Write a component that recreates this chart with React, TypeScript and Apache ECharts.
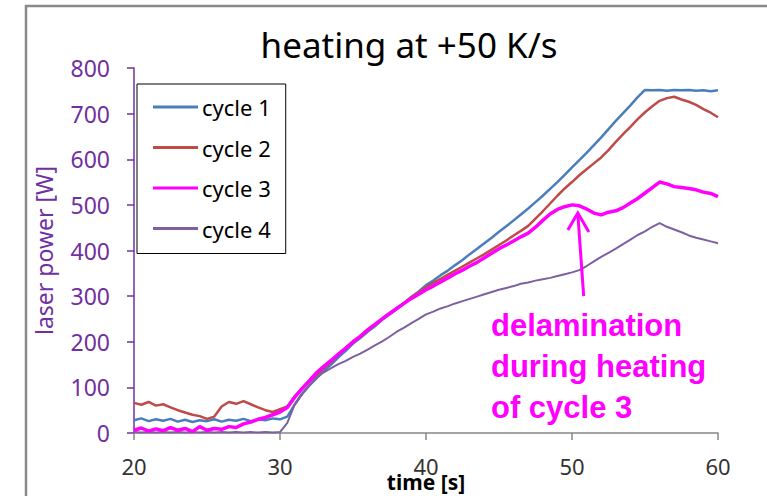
import React, { useEffect, useRef } from "react";
import * as echarts from "echarts";

const times = [20,20.5,21,21.5,22,22.5,23,23.5,24,24.5,25,25.5,26,26.5,27,27.5,28,28.5,29,29.5,30,30.5,31,31.5,32,32.5,33,33.5,34,34.5,35,35.5,36,36.5,37,37.5,38,38.5,39,39.5,40,40.5,41,41.5,42,42.5,43,43.5,44,44.5,45,45.5,46,46.5,47,47.5,48,48.5,49,49.5,50,50.5,51,51.5,52,52.5,53,53.5,54,54.5,55,55.5,56,56.5,57,57.5,58,58.5,59,59.5,60];

const cycle1 = [28,32,26,30,27,31,25,29,24,28, 26,30,25,29,27,31,26,30,28,32, 30,36,62,86,104,120,136,150,166,180, 196,208,222,234,248,260,272,285,298,310, 324,334,346,356,368,379,392,404,416,428, 441,453,466,479,492,506,520,535,550,566, 582,598,614,631,648,666,684,701,718,736, 752,751,752,750,752,751,752,750,751,749, 751];
const cycle2 = [66,62,68,60,63,56,50,45,40,37, 31,36,58,68,64,70,63,56,50,46, 52,58,80,96,112,127,142,156,172,185, 198,211,224,237,250,261,274,285,298,308, 320,329,338,347,356,365,374,383,392,402, 412,422,433,443,454,470,486,503,520,536, 550,565,578,591,604,620,638,655,671,688, 703,716,728,734,737,731,726,719,710,702, 692];
const cycle3 = [6,11,4,9,5,12,6,10,3,14, 6,10,8,14,12,20,24,30,34,40, 46,56,78,97,114,132,146,159,173,186, 200,212,226,238,250,262,273,284,295,304, 314,322,331,340,349,357,366,374,384,394, 404,412,421,430,438,451,466,480,490,496, 500,498,491,482,478,484,487,494,504,514, 526,538,550,546,540,538,536,533,528,525, 518];
const cycle4 = [2,1,2,1,2,1,2,1,2,1, 2,1,2,1,2,1,2,1,2,1, 2,22,62,84,104,121,133,142,151,158, 167,174,183,192,201,211,222,231,241,250, 260,266,273,278,284,289,294,299,304,309, 314,318,322,327,330,334,337,340,344,348, 352,357,366,376,386,395,404,414,424,434, 442,452,460,452,446,440,433,428,424,420, 416];

const seriesNames = ["cycle 1", "cycle 2", "cycle 3", "cycle 4"];
const seriesColors = ["#4A7EBB", "#BE4B48", "#FF00FF", "#7D60A0"];
const seriesWidths = [2.5, 2.5, 3.5, 2];
const seriesValues = [cycle1, cycle2, cycle3, cycle4];
const seriesZ = [2, 3, 5, 4];

const xTicks = { min: 20, max: 60, interval: 10 };
const yTicks = { min: 0, max: 800, interval: 100 };

const titleText = "heating at +50 K/s";
const xName = "time [s]";
const yName = "laser power [W]";
const noteText = "delamination\nduring heating\nof cycle 3";
const arrowTip = [50.4, 482];
const arrowTail = [50.8, 300];

const FONT = "'Noto Sans', 'Liberation Sans', sans-serif";

export default function App() {
  const ref = useRef<HTMLDivElement>(null);
  useEffect(() => {
    if (!ref.current) return;
    const chart = echarts.init(ref.current, null, { renderer: "svg" });
    chart.setOption({
      animation: false,
      backgroundColor: "#ffffff",
      title: {
        text: titleText,
        left: 404,
        top: 22,
        textAlign: "center",
        textStyle: { fontSize: 35, fontWeight: "normal", color: "#000", fontFamily: FONT },
      },
      grid: { left: 134, right: 49, top: 68, bottom: 63, containLabel: false, outerBoundsMode: "none" },
      legend: {
        orient: "vertical",
        left: 137,
        top: 84,
        data: seriesNames,
        icon: "rect",
        itemWidth: 45,
        itemHeight: 3,
        itemGap: 18.5,
        padding: [12, 15, 14, 16],
        borderColor: "#000",
        borderWidth: 1,
        backgroundColor: "#fff",
        textStyle: { fontSize: 22, lineHeight: 22, color: "#000", fontFamily: FONT, padding: [0, 0, 0, -1] },
        z: 10,
      },
      xAxis: {
        type: "value",
        min: xTicks.min,
        max: xTicks.max,
        interval: xTicks.interval,
        name: xName,
        nameLocation: "middle",
        nameGap: 38,
        nameMoveOverlap: false,
        nameTextStyle: { fontSize: 21, fontWeight: "bold", color: "#000", fontFamily: FONT, lineHeight: 21 },
        axisLine: { lineStyle: { color: "#868686", width: 1.5 } },
        axisTick: { show: true, length: 7, lineStyle: { color: "#868686", width: 1.5 } },
        axisLabel: { fontSize: 22, color: "#333", margin: 33, verticalAlign: "middle", fontFamily: FONT },
        splitLine: { show: false },
      },
      yAxis: {
        type: "value",
        min: yTicks.min,
        max: yTicks.max,
        interval: yTicks.interval,
        name: yName,
        nameLocation: "middle",
        nameRotate: 90,
        nameGap: 79,
        nameMoveOverlap: false,
        nameTextStyle: { fontSize: 23, color: "#7030A0", fontFamily: FONT },
        axisLine: { show: true, lineStyle: { color: "#7030A0", width: 1.5 } },
        axisTick: { show: true, length: 7, lineStyle: { color: "#7030A0", width: 1.5 } },
        axisLabel: { fontSize: 23, color: "#7030A0", margin: 24, fontFamily: FONT },
        splitLine: { show: false },
      },
      series: seriesNames.map((name, i) => ({
        name,
        type: "line",
        data: times.map((t, j) => [t, seriesValues[i][j]]),
        symbol: "none",
        showSymbol: false,
        color: seriesColors[i],
        lineStyle: { color: seriesColors[i], width: seriesWidths[i] },
        z: seriesZ[i],
      })),
    });

    const tip = chart.convertToPixel({ gridIndex: 0 }, arrowTip) as number[];
    const tail = chart.convertToPixel({ gridIndex: 0 }, arrowTail) as number[];
    chart.setOption({
      graphic: [
        {
          type: "rect",
          silent: true,
          z: -10,
          shape: { x: 26, y: 6, width: 800, height: 600 },
          style: { fill: "none", stroke: "#8a8a8a", lineWidth: 2.5 },
        },
        {
          type: "text",
          x: 491,
          y: 305,
          z: 20,
          style: {
            text: noteText,
            fill: "#FF00FF",
            font: "bold 31px 'Liberation Sans', Arial, sans-serif",
            lineHeight: 41,
            verticalAlign: "top",
            align: "left",
          },
        },
        {
          type: "line",
          z: 20,
          shape: { x1: tail[0], y1: tail[1], x2: tip[0], y2: tip[1] + 1 },
          style: { stroke: "#FF00FF", lineWidth: 3 },
        },
        {
          type: "polyline",
          z: 20,
          shape: { points: [[tip[0] - 10, tip[1] + 17], [tip[0], tip[1]], [tip[0] + 11, tip[1] + 19]] },
          style: { stroke: "#FF00FF", lineWidth: 3, fill: "none" },
        },
      ],
    });
    return () => chart.dispose();
  }, []);
  return (
    <div
      ref={ref}
      style={{ position: "absolute", left: 0, top: 0, width: 767, height: 496, background: "#fff" }}
    />
  );
}
